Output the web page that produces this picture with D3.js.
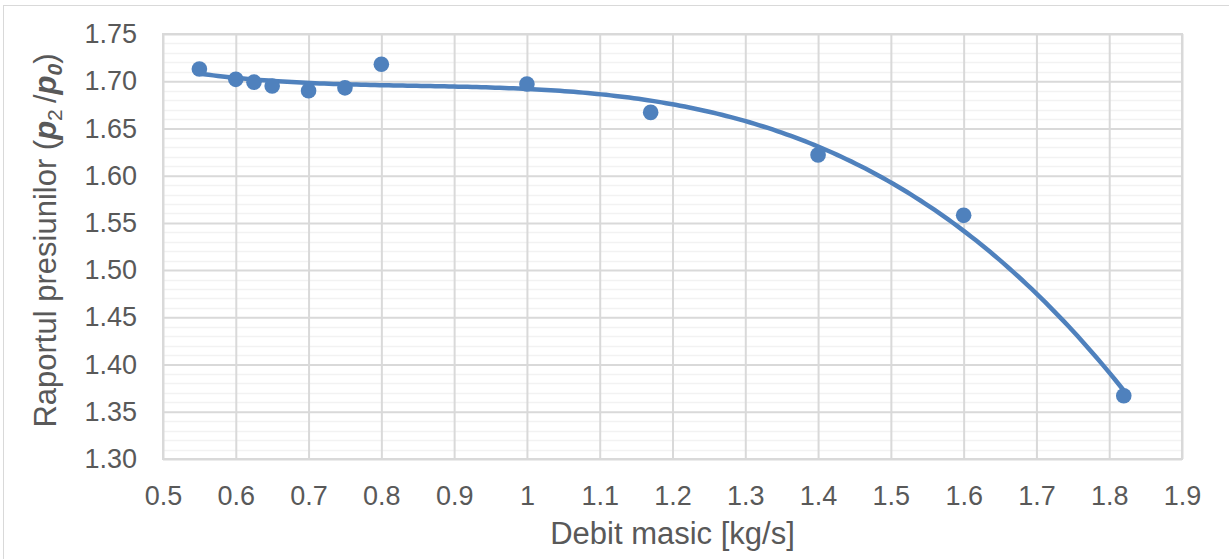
<!DOCTYPE html>
<html>
<head>
<meta charset="utf-8">
<script src="https://cdn.jsdelivr.net/npm/d3@7"></script>
<style>
  html, body { margin: 0; padding: 0; background: #fff; }
  svg { display: block; font-family: "Liberation Sans", Arial, sans-serif; }
</style>
</head>
<body>
<svg id="chart" width="1229" height="559"></svg>
<script>
// Mass flow [kg/s] and measured pressure ratio p2/p0
const massFlow = [0.55, 0.60, 0.625, 0.65, 0.70, 0.75, 0.80, 1.00, 1.17, 1.40, 1.60, 1.82];
const pressureRatio = [1.713, 1.702, 1.699, 1.695, 1.690, 1.693, 1.718, 1.697, 1.667, 1.622, 1.558, 1.367];

const xTickValues = [0.5, 0.6, 0.7, 0.8, 0.9, 1.0, 1.1, 1.2, 1.3, 1.4, 1.5, 1.6, 1.7, 1.8, 1.9];
const xTickLabels = ["0.5", "0.6", "0.7", "0.8", "0.9", "1", "1.1", "1.2", "1.3", "1.4", "1.5", "1.6", "1.7", "1.8", "1.9"];
const yTickValues = [1.30, 1.35, 1.40, 1.45, 1.50, 1.55, 1.60, 1.65, 1.70, 1.75];
const yTickLabels = ["1.30", "1.35", "1.40", "1.45", "1.50", "1.55", "1.60", "1.65", "1.70", "1.75"];
const trendOrder = 3;

const svg = d3.select("#chart");
const plot = { left: 163, right: 1182, top: 34, bottom: 459 };
const blue = "#4f81bd";
const textColor = "#595959";

// Chart frame
svg.append("rect")
  .attr("x", 3.5).attr("y", 5.5).attr("width", 1240).attr("height", 560)
  .attr("fill", "#fff").attr("stroke", "#d9d9d9").attr("stroke-width", 1);

const x = d3.scaleLinear().domain([0.5, 1.9]).range([plot.left, plot.right]);
const y = d3.scaleLinear().domain([1.30, 1.75]).range([plot.bottom, plot.top]);

// Minor horizontal gridlines every 0.01
const minorY = d3.range(131, 175).filter(v => v % 5 !== 0).map(v => v / 100);
svg.append("g").selectAll("line").data(minorY).join("line")
  .attr("x1", plot.left).attr("x2", plot.right)
  .attr("y1", d => Math.round(y(d)) + 0.5).attr("y2", d => Math.round(y(d)) + 0.5)
  .attr("stroke", "#f2f2f2").attr("stroke-width", 1.5);

// Major gridlines and tick labels
const yAxis = d3.axisLeft(y).tickValues(yTickValues)
  .tickFormat((d, i) => yTickLabels[i])
  .tickSize(-(plot.right - plot.left)).tickPadding(26);
const gy = svg.append("g").attr("transform", `translate(${plot.left},0)`).call(yAxis);

const xAxis = d3.axisBottom(x).tickValues(xTickValues)
  .tickFormat((d, i) => xTickLabels[i])
  .tickSize(-(plot.bottom - plot.top)).tickPadding(36);
const gx = svg.append("g").attr("transform", `translate(0,${plot.bottom})`).call(xAxis);

[gx, gy].forEach(g => {
  g.select(".domain").remove();
  g.selectAll(".tick line").attr("stroke", "#d9d9d9").attr("stroke-width", 2);
  g.selectAll(".tick text")
    .attr("fill", textColor)
    .style("font-size", "27px");
});
gx.selectAll(".tick text").attr("dy", "0.36em");

// Plot area border
svg.append("rect")
  .attr("x", plot.left).attr("y", plot.top)
  .attr("width", plot.right - plot.left).attr("height", plot.bottom - plot.top)
  .attr("fill", "none").attr("stroke", "#d9d9d9").attr("stroke-width", 2);

// Least-squares polynomial trendline
function polyFit(xs, ys, order) {
  const n = order + 1;
  const A = Array.from({ length: n }, () => new Array(n + 1).fill(0));
  xs.forEach((xv, k) => {
    for (let i = 0; i < n; i++) {
      for (let j = 0; j < n; j++) A[i][j] += Math.pow(xv, i + j);
      A[i][n] += ys[k] * Math.pow(xv, i);
    }
  });
  for (let c = 0; c < n; c++) {
    let p = c;
    for (let r = c + 1; r < n; r++) if (Math.abs(A[r][c]) > Math.abs(A[p][c])) p = r;
    [A[c], A[p]] = [A[p], A[c]];
    for (let r = 0; r < n; r++) {
      if (r === c) continue;
      const f = A[r][c] / A[c][c];
      for (let j = c; j <= n; j++) A[r][j] -= f * A[c][j];
    }
  }
  return A.map((row, i) => row[n] / row[i]);
}
const coef = polyFit(massFlow, pressureRatio, trendOrder);
const fitAt = xv => coef.reduce((s, c, i) => s + c * Math.pow(xv, i), 0);
const xMin = d3.min(massFlow), xMax = d3.max(massFlow);
const trend = d3.range(0, 201).map(i => xMin + (xMax - xMin) * i / 200);

svg.append("path")
  .datum(trend)
  .attr("fill", "none").attr("stroke", blue).attr("stroke-width", 4.5)
  .attr("stroke-linecap", "round")
  .attr("d", d3.line().x(d => x(d)).y(d => y(fitAt(d))));

// Measured points
svg.append("g").selectAll("circle").data(massFlow).join("circle")
  .attr("cx", d => x(d))
  .attr("cy", (d, i) => y(pressureRatio[i]))
  .attr("r", 7.8)
  .attr("fill", blue);

// Axis titles
svg.append("text")
  .attr("x", (plot.left + plot.right) / 2).attr("y", 544)
  .attr("text-anchor", "middle").attr("fill", textColor)
  .style("font-size", "31px")
  .text("Debit masic [kg/s]");

const yt = svg.append("text")
  .attr("transform", `translate(56,${(plot.top + plot.bottom) / 2 - 6}) rotate(-90)`)
  .attr("text-anchor", "middle").attr("fill", textColor)
  .style("font-size", "31px");
yt.append("tspan").text("Raportul presiunilor (");
yt.append("tspan").style("font-weight", "bold").style("font-style", "italic").text("p");
yt.append("tspan").attr("dy", 6).style("font-size", "21px").text("2");
yt.append("tspan").attr("dy", -6).text("\u2009/");
yt.append("tspan").style("font-weight", "bold").style("font-style", "italic").text("p");
yt.append("tspan").attr("dy", 6).style("font-size", "21px").style("font-weight", "bold").style("font-style", "italic").text("0");
yt.append("tspan").attr("dy", -6).text(")");
</script>
</body>
</html>
